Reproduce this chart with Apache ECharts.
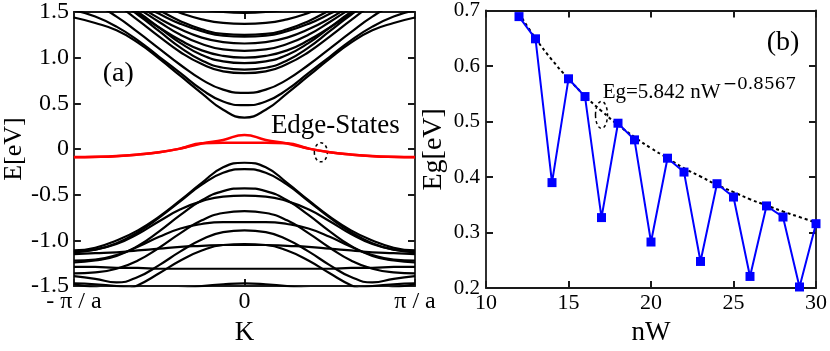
<!DOCTYPE html>
<html>
<head>
<meta charset="UTF-8">
<title>bands</title>
<script src="https://cdn.jsdelivr.net/npm/echarts@6.0.0/dist/echarts.min.js"></script>
<style>
  html, body { margin: 0; padding: 0; background: #fff; }
  #main { width: 830px; height: 351px; }
</style>
</head>
<body>
<div id="main"></div>
<script>
// ---- panel (a): band structure, k in units of pi/a ----
var kVals = [-1, -0.875, -0.75, -0.625, -0.5, -0.375, -0.25, -0.125, 0, 0.125, 0.25, 0.375, 0.5, 0.625, 0.75, 0.875, 1];

var cb1  = [1.44,1.38,1.30,1.165,0.99,0.80,0.61,0.43,0.345,0.43,0.61,0.80,0.99,1.165,1.30,1.38,1.44];
var cb2  = [1.52,1.45,1.34,1.19,1.01,0.83,0.65,0.52,0.48,0.52,0.65,0.83,1.01,1.19,1.34,1.45,1.52];
var cb3  = [1.65,1.58,1.45,1.28,1.10,0.92,0.76,0.65,0.615,0.65,0.76,0.92,1.10,1.28,1.45,1.58,1.65];
var cb4  = [1.75,1.70,1.58,1.41,1.23,1.06,0.93,0.85,0.83,0.85,0.93,1.06,1.23,1.41,1.58,1.70,1.75];
var cb5  = [1.76,1.72,1.62,1.47,1.29,1.11,0.97,0.89,0.87,0.89,0.97,1.11,1.29,1.47,1.62,1.72,1.76];
var cb6  = [1.80,1.75,1.65,1.50,1.33,1.16,1.03,0.96,0.94,0.96,1.03,1.16,1.33,1.50,1.65,1.75,1.80];
var cb7  = [1.75,1.72,1.62,1.48,1.33,1.19,1.08,1.02,1.00,1.02,1.08,1.19,1.33,1.48,1.62,1.72,1.75];
var cb8  = [1.80,1.78,1.68,1.54,1.39,1.25,1.15,1.09,1.075,1.09,1.15,1.25,1.39,1.54,1.68,1.78,1.80];
var cb9  = [1.85,1.80,1.70,1.57,1.43,1.31,1.22,1.17,1.155,1.17,1.22,1.31,1.43,1.57,1.70,1.80,1.85];
var cb10 = [1.85,1.80,1.72,1.60,1.48,1.37,1.29,1.24,1.23,1.24,1.29,1.37,1.48,1.60,1.72,1.80,1.85];
var cb11 = [1.90,1.85,1.78,1.65,1.52,1.40,1.31,1.26,1.25,1.26,1.31,1.40,1.52,1.65,1.78,1.85,1.90];
var cb12 = [1.90,1.85,1.80,1.70,1.58,1.49,1.42,1.38,1.37,1.38,1.42,1.49,1.58,1.70,1.80,1.85,1.90];
var cb13 = [1.90,1.90,1.85,1.75,1.66,1.58,1.53,1.50,1.49,1.50,1.53,1.58,1.66,1.75,1.85,1.90,1.90];

var vb1  = [-1.11,-1.08,-1.00,-0.89,-0.74,-0.56,-0.37,-0.20,-0.15,-0.20,-0.37,-0.56,-0.74,-0.89,-1.00,-1.08,-1.11];
var vb2  = [-1.13,-1.10,-1.03,-0.91,-0.75,-0.57,-0.39,-0.26,-0.22,-0.26,-0.39,-0.57,-0.75,-0.91,-1.03,-1.10,-1.13];
var vb3  = [-1.24,-1.22,-1.17,-1.06,-0.90,-0.72,-0.56,-0.46,-0.43,-0.46,-0.56,-0.72,-0.90,-1.06,-1.17,-1.22,-1.24];
var vb4  = [-1.12,-1.10,-1.04,-0.93,-0.79,-0.66,-0.57,-0.52,-0.51,-0.52,-0.57,-0.66,-0.79,-0.93,-1.04,-1.10,-1.12];
var vb5  = [-1.36,-1.35,-1.31,-1.22,-1.08,-0.92,-0.78,-0.70,-0.68,-0.70,-0.78,-0.92,-1.08,-1.22,-1.31,-1.35,-1.36];
var vb6  = [-1.22,-1.21,-1.16,-1.07,-0.96,-0.87,-0.82,-0.80,-0.80,-0.80,-0.82,-0.87,-0.96,-1.07,-1.16,-1.21,-1.22];
var vb7  = [-1.39,-1.42,-1.46,-1.40,-1.27,-1.12,-0.99,-0.91,-0.89,-0.91,-0.99,-1.12,-1.27,-1.40,-1.46,-1.42,-1.39];
var vb8  = [-1.48,-1.52,-1.57,-1.49,-1.36,-1.22,-1.11,-1.05,-1.04,-1.05,-1.11,-1.22,-1.36,-1.49,-1.57,-1.52,-1.48];
var vb9  = [-1.15,-1.14,-1.13,-1.11,-1.09,-1.07,-1.06,-1.05,-1.05,-1.05,-1.06,-1.07,-1.09,-1.11,-1.13,-1.14,-1.15];
var vb10 = [-1.29,-1.29,-1.30,-1.30,-1.31,-1.31,-1.31,-1.31,-1.31,-1.31,-1.31,-1.31,-1.31,-1.30,-1.30,-1.29,-1.29];
var vb11 = [-1.47,-1.48,-1.50,-1.53,-1.55,-1.53,-1.50,-1.48,-1.47,-1.48,-1.50,-1.53,-1.55,-1.53,-1.50,-1.48,-1.47];

var es1 = [-0.088,-0.085,-0.077,-0.060,-0.035,0.005,0.060,0.100,0.155,0.100,0.060,0.005,-0.035,-0.060,-0.077,-0.085,-0.088];
var es2 = [-0.089,-0.086,-0.078,-0.061,-0.036,0.006,0.063,0.068,0.068,0.068,0.063,0.006,-0.036,-0.061,-0.078,-0.086,-0.089];

var kTickLabels = { '-1': '- \u03c0 / a', '0': '0', '1': '\u03c0 / a' };

// ---- panel (b): gap vs width ----
var nW = [12,13,14,15,16,17,18,19,20,21,22,23,24,25,26,27,28,29,30];
var Eg = [0.689,0.649,0.390,0.577,0.545,0.327,0.497,0.467,0.283,0.434,0.409,0.248,0.388,0.364,0.221,0.348,0.328,0.202,0.316];
var EgFit = [0.695,0.650,0.611,0.577,0.546,0.519,0.494,0.472,0.452,0.434,0.416,0.401,0.386,0.373,0.360,0.349,0.338,0.328,0.318];

var conduction = [cb1,cb2,cb3,cb4,cb5,cb6,cb7,cb8,cb9,cb10,cb11,cb12,cb13];
var valence = [vb1,vb2,vb3,vb4,vb5,vb6,vb7,vb8,vb9,vb10,vb11];
var edges = [es1, es2];

var FONT = '"Liberation Serif", serif';
var FRAME = '#1a1a1a';

function axisBase(extra) {
    var a = {
        type: 'value',
        axisLine: { show: true, onZero: false, lineStyle: { color: FRAME, width: 1.8 } },
        axisTick: { show: true, inside: true, length: 7, lineStyle: { color: FRAME, width: 2 } },
        axisLabel: { show: false },
        splitLine: { show: false }
    };
    for (var key in extra) a[key] = extra[key];
    return a;
}

function bandSeries(vals, color, w) {
    return {
        type: 'line',
        xAxisIndex: 0, yAxisIndex: 0,
        data: kVals.map(function (k, i) { return [k, vals[i]]; }),
        smooth: true, symbol: 'none', silent: true,
        lineStyle: { color: color, width: w }
    };
}

var series = [];
conduction.forEach(function (b) { series.push(bandSeries(b, '#000', 2.2)); });
valence.forEach(function (b) { series.push(bandSeries(b, '#000', 2.2)); });
edges.forEach(function (b) { series.push(bandSeries(b, '#ff0000', 2.5)); });

series.push({
    type: 'line', xAxisIndex: 2, yAxisIndex: 2,
    data: nW.map(function (n, i) { return [n, EgFit[i]]; }),
    smooth: true, symbol: 'none', silent: true,
    lineStyle: { color: '#000', width: 2, type: [3, 3] }
});
series.push({
    type: 'line', xAxisIndex: 2, yAxisIndex: 2,
    data: nW.map(function (n, i) { return [n, Eg[i]]; }),
    symbol: 'rect', symbolSize: 9,
    itemStyle: { color: '#0000ff' },
    lineStyle: { color: '#0000ff', width: 2 }
});

var chart = echarts.init(document.getElementById('main'));
chart.setOption({
    animation: false,
    backgroundColor: '#fff',
    textStyle: { fontFamily: FONT },
    grid: [
        { left: 67, top: 9, width: 348, height: 295 },
        { left: 486, top: 9, width: 334, height: 295 }
    ],
    xAxis: [
        axisBase({ gridIndex: 0, position: 'bottom', min: -1, max: 1, interval: 1,
            name: 'K', nameLocation: 'middle', nameGap: 24,
            nameTextStyle: { fontFamily: FONT, fontSize: 27, color: '#000' },
            axisLabel: { show: true, margin: 4, color: '#000', fontFamily: FONT, fontSize: 24,
                formatter: function (v) { return kTickLabels[String(v)]; } } }),
        axisBase({ gridIndex: 0, position: 'top', min: -1, max: 1, interval: 1 }),
        axisBase({ gridIndex: 1, position: 'bottom', min: 10, max: 30, interval: 5,
            name: 'nW', nameLocation: 'middle', nameGap: 24,
            nameTextStyle: { fontFamily: FONT, fontSize: 27, color: '#000' },
            axisLabel: { show: true, margin: 4, color: '#000', fontFamily: FONT, fontSize: 22 } }),
        axisBase({ gridIndex: 1, position: 'top', min: 10, max: 30, interval: 5 })
    ],
    yAxis: [
        axisBase({ gridIndex: 0, position: 'left', min: -1.5, max: 1.5, interval: 0.5,
            name: 'E[eV]', nameLocation: 'middle', nameGap: 42, nameRotate: 90,
            nameTextStyle: { fontFamily: FONT, fontSize: 26, color: '#000' },
            axisLabel: { show: true, margin: 5, color: '#000', fontFamily: FONT, fontSize: 24,
                formatter: function (v) { return v === 0 ? '0' : v.toFixed(1); } } }),
        axisBase({ gridIndex: 0, position: 'right', min: -1.5, max: 1.5, interval: 0.5 }),
        axisBase({ gridIndex: 1, position: 'left', min: 0.2, max: 0.7, interval: 0.1,
            name: 'Eg[eV]', nameLocation: 'middle', nameGap: 38, nameRotate: 90,
            nameTextStyle: { fontFamily: FONT, fontSize: 28, color: '#000' },
            axisLabel: { show: true, margin: 6, color: '#000', fontFamily: FONT, fontSize: 21,
                formatter: function (v) { return v.toFixed(1); } } }),
        axisBase({ gridIndex: 1, position: 'right', min: 0.2, max: 0.7, interval: 0.1 })
    ],
    series: series
});

// annotations placed from data coordinates
function pa(x, y) { return chart.convertToPixel({ xAxisIndex: 0, yAxisIndex: 0 }, [x, y]); }
function pb(x, y) { return chart.convertToPixel({ xAxisIndex: 2, yAxisIndex: 2 }, [x, y]); }

var aLbl = pa(-0.74, 0.83);
var edgeLbl = pa(0.155, 0.25);
var ellA = pa(0.448, -0.036);
var bLbl = pb(28.0, 0.642);
var fitLbl = pb(17.07, 0.5525);
var ellB = pb(17.0, 0.512);

chart.setOption({
    graphic: [
        { type: 'text', x: aLbl[0], y: aLbl[1], style: { text: '(a)', font: '28px "Liberation Serif"', fill: '#000', align: 'center', verticalAlign: 'middle' } },
        { type: 'text', x: edgeLbl[0], y: edgeLbl[1], style: { text: 'Edge-States', font: '27px "Liberation Serif"', fill: '#000', align: 'left', verticalAlign: 'middle' } },
        { type: 'ellipse', shape: { cx: ellA[0], cy: ellA[1], rx: 6.5, ry: 9.5 }, style: { fill: 'none', stroke: '#000', lineWidth: 1.5, lineDash: [3, 3] } },
        { type: 'text', x: bLbl[0], y: bLbl[1], style: { text: '(b)', font: '28px "Liberation Serif"', fill: '#000', align: 'center', verticalAlign: 'middle' } },
        { type: 'text', x: fitLbl[0], y: fitLbl[1], style: { text: 'Eg=5.842 nW', font: '21px "Liberation Serif"', fill: '#000', align: 'left', verticalAlign: 'middle' } },
        { type: 'text', x: fitLbl[0] + 120, y: fitLbl[1] - 8, style: { text: '\u22120.8567', font: '17px "DejaVu Serif"', fill: '#000', align: 'left', verticalAlign: 'middle' } },
        { type: 'ellipse', shape: { cx: ellB[0], cy: ellB[1], rx: 6, ry: 13.5 }, style: { fill: 'none', stroke: '#000', lineWidth: 1.5, lineDash: [3, 3] } }
    ]
});
</script>
</body>
</html>
